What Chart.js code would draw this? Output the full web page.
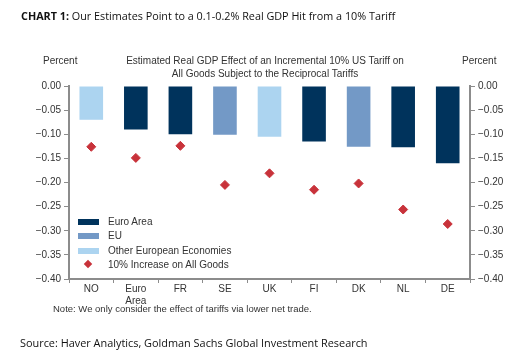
<!doctype html>
<html>
<head>
<title>Chart 1</title>
<script src="https://cdn.jsdelivr.net/npm/chart.js@4.4.0/dist/chart.umd.min.js"></script>
<style>
body { margin: 0; background: #fff; }
#wrap { position: relative; width: 530px; height: 358px; overflow: hidden; }
#wrap canvas { position: absolute; left: 0; top: 0; }
.t { position: absolute; white-space: nowrap; color: #222; }
.gs { font-family: "Open Sans", "Noto Sans", sans-serif; font-size: 10.8px; color: #111; }
.ar { font-family: "Liberation Sans", Arial, sans-serif; font-size: 10px; color: #333; }
#legend { position: absolute; left: 78px; top: 215px; font-family: "Liberation Sans", Arial, sans-serif; font-size: 10px; color: #333; }
#legend div { height: 14.3px; line-height: 14.3px; position: relative; padding-left: 30px; }
#legend span.box { position: absolute; left: 0; top: 4px; width: 21px; height: 6px; }
#legend span.dia { position: absolute; left: 7px; top: 3.5px; width: 6px; height: 6px; transform: rotate(45deg); }
</style>
</head>
<body>
<div id="wrap">
	<canvas id="canvas" width="530" height="358"></canvas>
	<div class="t gs" style="left:21px; top:8px;"><b>CHART 1:</b> Our Estimates Point to a 0.1-0.2% Real GDP Hit from a 10% Tariff</div>
	<div class="t ar" style="left:43px; top:55px;">Percent</div>
	<div class="t ar" style="left:462px; top:55px;">Percent</div>
	<div class="t ar" style="left:110px; top:55px; width:310px; text-align:center; line-height:12.5px;">Estimated Real GDP Effect of an Incremental 10% US Tariff on<br>All Goods Subject to the Reciprocal Tariffs</div>
	<div id="legend"></div>
	<div class="t ar" style="left:53px; top:303px; font-size:9.5px;">Note: We only consider the effect of tariffs via lower net trade.</div>
	<div class="t gs" style="left:20px; top:335px; font-size:10.9px;">Source: Haver Analytics, Goldman Sachs Global Investment Research</div>
</div>
<script>
	const countries = ["NO", ["Euro", "Area"], "FR", "SE", "UK", "FI", "DK", "NL", "DE"];
	const groups = ["Other", "Euro", "Euro", "EU", "Other", "Euro", "EU", "Euro", "Euro"];
	const reciprocal = [-0.07, -0.09, -0.10, -0.101, -0.105, -0.115, -0.126, -0.127, -0.16];
	const allGoods = [-0.126, -0.149, -0.124, -0.205, -0.181, -0.215, -0.202, -0.256, -0.286];
	const yTicks = [0, -0.05, -0.10, -0.15, -0.20, -0.25, -0.30, -0.35, -0.40];

	const groupNames = { Euro: "Euro Area", EU: "EU", Other: "Other European Economies" };
	const groupColors = { Euro: "#00335c", EU: "#7399c6", Other: "#acd4f0" };
	const diamondColor = "#c8323a";
	const axisColor = "#8c8c8c";

	function fmt(v) {
		let s = Math.abs(v).toFixed(2);
		return v < 0 ? "\u2212" + s : s;
	}

	const datasets = [];
	["Euro", "EU", "Other"].forEach(g => {
		datasets.push({
			type: "bar",
			label: groupNames[g],
			data: reciprocal.map((v, i) => groups[i] == g ? v : null),
			backgroundColor: groupColors[g],
			borderWidth: 0,
			grouped: false,
			barPercentage: 0.53,
			categoryPercentage: 1,
			order: 2
		});
	});
	datasets.push({
		type: "line",
		label: "10% Increase on All Goods",
		data: allGoods,
		showLine: false,
		pointStyle: "rectRot",
		pointRadius: 4.5,
		pointBackgroundColor: diamondColor,
		pointBorderColor: diamondColor,
		order: 1
	});

	// legend drawn as html
	const leg = document.getElementById("legend");
	["Euro", "EU", "Other"].forEach(g => {
		leg.innerHTML += '<div><span class="box" style="background:' + groupColors[g] + '"></span>' + groupNames[g] + '</div>';
	});
	leg.innerHTML += '<div><span class="dia" style="background:' + diamondColor + '"></span>10% Increase on All Goods</div>';

	const tickFont = { family: "'Liberation Sans', Arial, sans-serif", size: 10 };

	function yAxis(pos, w) {
		return {
			position: pos,
			min: -0.40,
			max: 0,
			afterBuildTicks: s => { s.ticks = yTicks.map(v => ({ value: v })); },
			afterFit: s => { s.width = w; },
			grid: { drawOnChartArea: false, color: axisColor, tickLength: 5, lineWidth: 1 },
			border: { color: axisColor, width: 2 },
			ticks: { color: "#333", font: tickFont, padding: 3, callback: v => fmt(v) }
		};
	}

	new Chart(document.getElementById("canvas"), {
		data: { labels: countries, datasets: datasets },
		options: {
			responsive: false,
			animation: false,
			layout: { padding: { top: 86, left: 0, right: 0, bottom: 0 } },
			plugins: { legend: { display: false }, tooltip: { enabled: false } },
			scales: {
				x: {
					offset: true,
					afterFit: s => { s.height = 79; },
					grid: { drawOnChartArea: false, offset: true, color: axisColor, tickLength: 4 },
					border: { color: axisColor, width: 2 },
					ticks: { color: "#333", font: tickFont, padding: 0, maxRotation: 0, autoSkip: false }
				},
				y: yAxis("left", 69),
				y2: yAxis("right", 60)
			}
		}
	});
</script>
</body>
</html>
